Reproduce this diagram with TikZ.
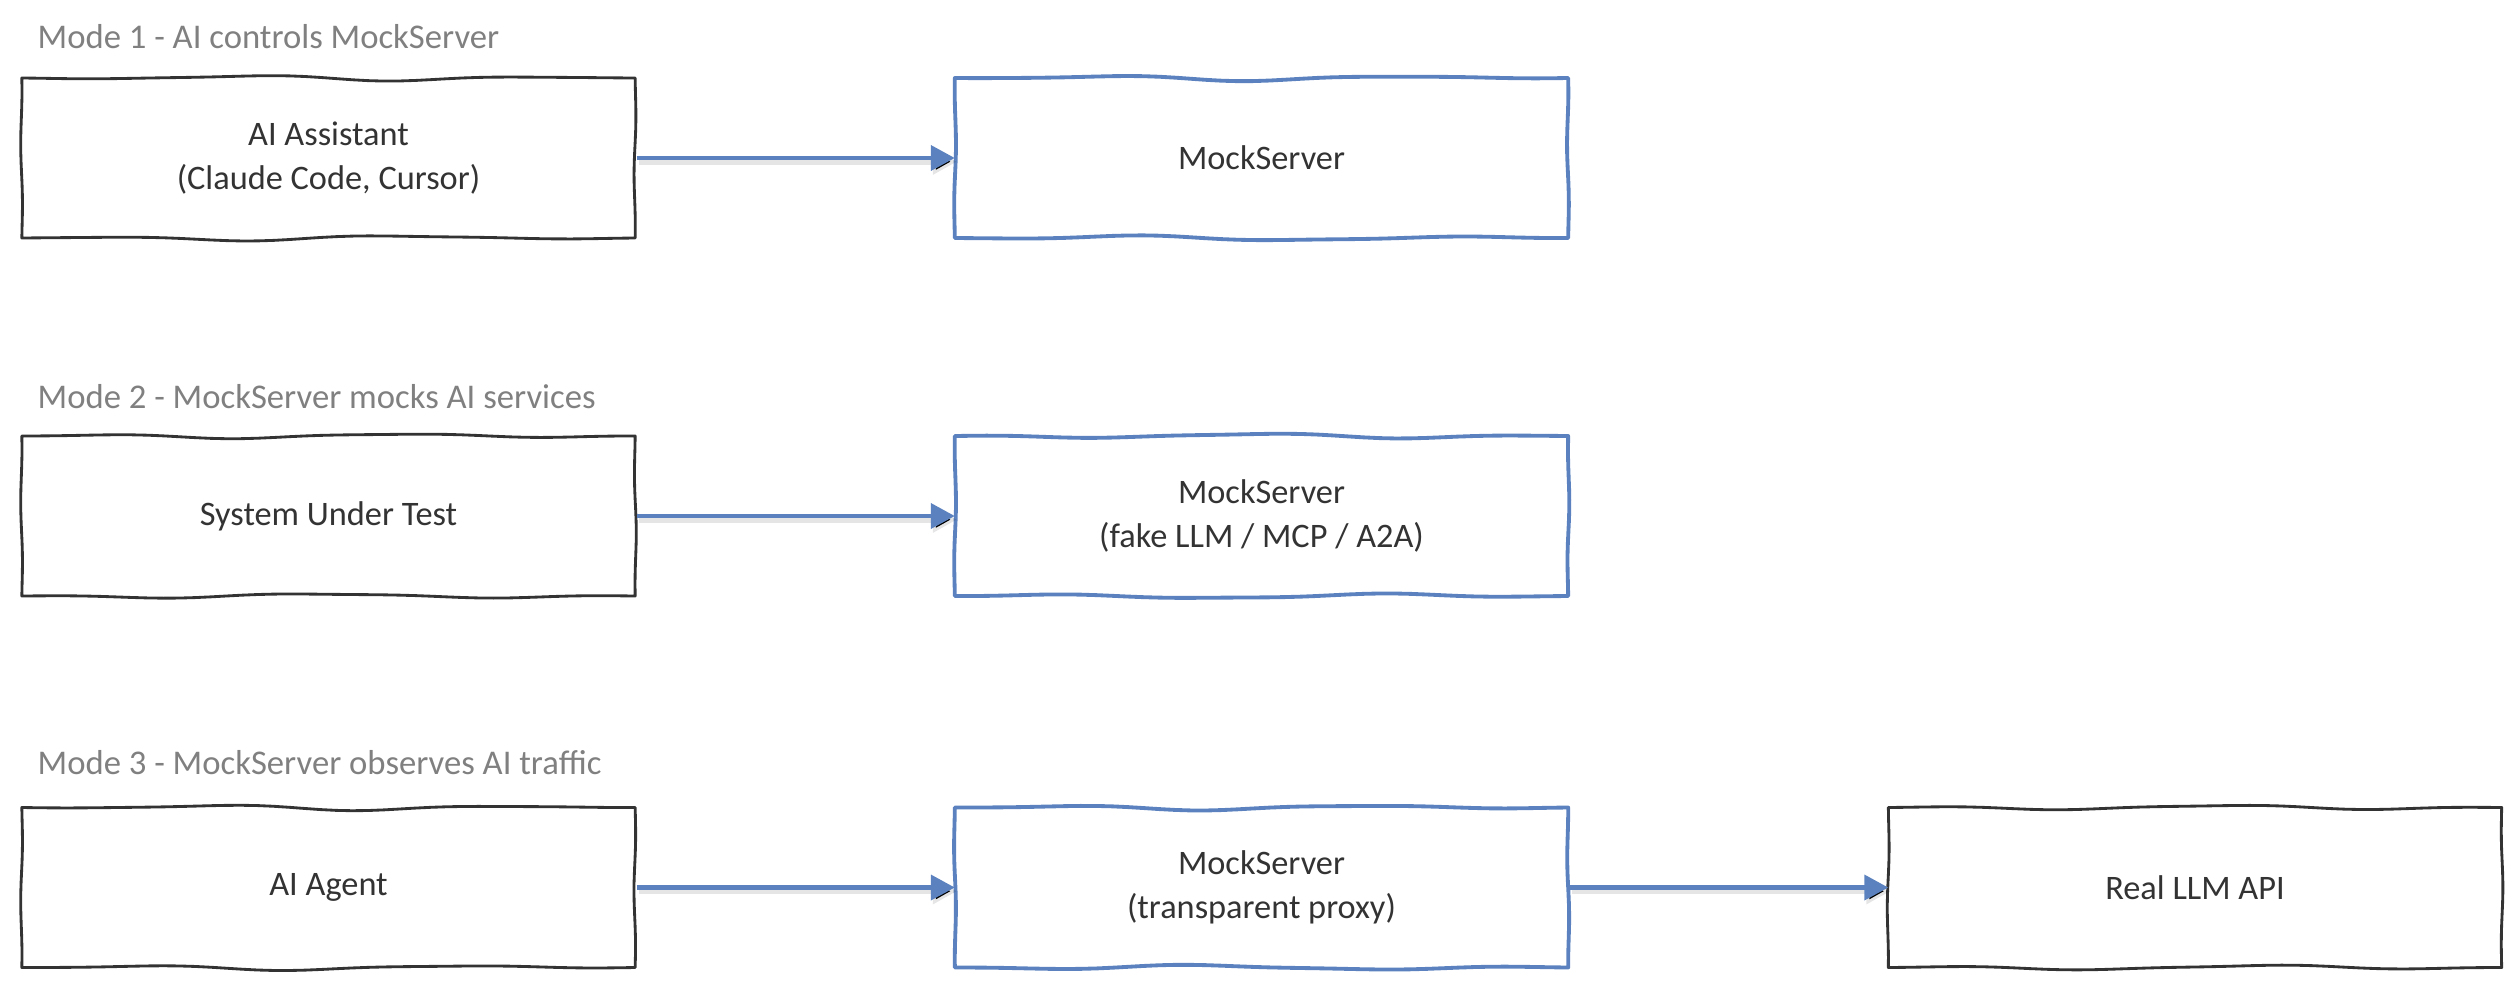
\documentclass[tikz,border=0pt]{standalone}
\usepackage{fontspec}
\setmainfont{Carlito}
\usetikzlibrary{arrows.meta}
\definecolor{inkdark}{HTML}{333333}
\definecolor{inkblue}{HTML}{5B82BE}
\definecolor{titlegray}{HTML}{808080}
% hand-drawn outline round a named node (613.33 x 160 px): #1 node, #2 draw options, #3 phase
\newcommand\skbox[3]{%
\begin{scope}[shift={(#1.north west)}]
\draw[#2,line cap=round,line join=round]
 plot[variable=\t,domain=0:1,samples=40]
   ({613.33*\t},{sin(180*\t)*(2.5*sin(700*\t+#3)+0.8*sin(1300*\t+2*#3))})
 -- plot[variable=\t,domain=0:1,samples=16]
   ({613.33+sin(180*\t)*1.2*sin(400*\t+#3)},{160*\t})
 -- plot[variable=\t,domain=0:1,samples=40]
   ({613.33*(1-\t)},{160+sin(180*\t)*(2.5*sin(650*\t+1.5*#3)+0.8*sin(1250*\t+#3))})
 -- plot[variable=\t,domain=0:1,samples=16]
   ({sin(180*\t)*1.2*sin(380*\t+2*#3)},{160*(1-\t)})
 -- cycle;
\end{scope}}
\begin{document}
\begin{tikzpicture}[x=0.3pt,y=-0.3pt,
  boxbase/.style={rectangle,minimum width=184pt,minimum height=48pt,align=center,
    font=\fontsize{10.3pt}{13.2pt}\selectfont,text=inkdark,inner sep=0pt,outer sep=0pt},
  darkline/.style={draw=inkdark,line width=0.85pt},
  blueline/.style={draw=inkblue,line width=1.15pt},
  modetitle/.style={anchor=base west,inner sep=0pt,text=titlegray,font=\fontsize{10.4pt}{12pt}\selectfont},
  flow/.style={draw=inkblue,line width=1.4pt,-{Triangle[length=7.2pt,width=7.4pt]},shorten <=0.4pt,
    preaction={draw=black,draw opacity=0.10,line width=1.8pt,transform canvas={shift={(0.6pt,-1.1pt)}}}}
]
\useasboundingbox (0,0) rectangle (2520,984);

% Mode 1
\node[modetitle] (t1) at (37,48) {Mode 1 - AI controls MockServer};
\node[boxbase] (a1) at (328.5,158) {AI Assistant\\(Claude Code, Cursor)};
\node[boxbase] (m1) at (1261.5,158) {MockServer};
\skbox{a1}{darkline}{20}
\skbox{m1}{blueline}{110}
\draw[flow] (a1.east) -- (m1.west);

% Mode 2
\node[modetitle] (t2) at (37,408) {Mode 2 - MockServer mocks AI services};
\node[boxbase] (a2) at (328.5,516) {System Under Test};
\node[boxbase] (m2) at (1261.5,516) {MockServer\\(fake LLM / MCP / A2A)};
\skbox{a2}{darkline}{200}
\skbox{m2}{blueline}{290}
\draw[flow] (a2.east) -- (m2.west);

% Mode 3
\node[modetitle] (t3) at (37,774) {Mode 3 - MockServer observes AI traffic};
\node[boxbase] (a3) at (328.5,887.5) {AI Agent};
\node[boxbase] (m3) at (1261.5,887.5) {MockServer\\(transparent proxy)};
\node[boxbase] (r3) at (2195,887.5) {Real LLM API};
\skbox{a3}{darkline}{60}
\skbox{m3}{blueline}{160}
\skbox{r3}{darkline}{250}
\draw[flow] (a3.east) -- (m3.west);
\draw[flow] (m3.east) -- (r3.west);
\end{tikzpicture}
\end{document}
